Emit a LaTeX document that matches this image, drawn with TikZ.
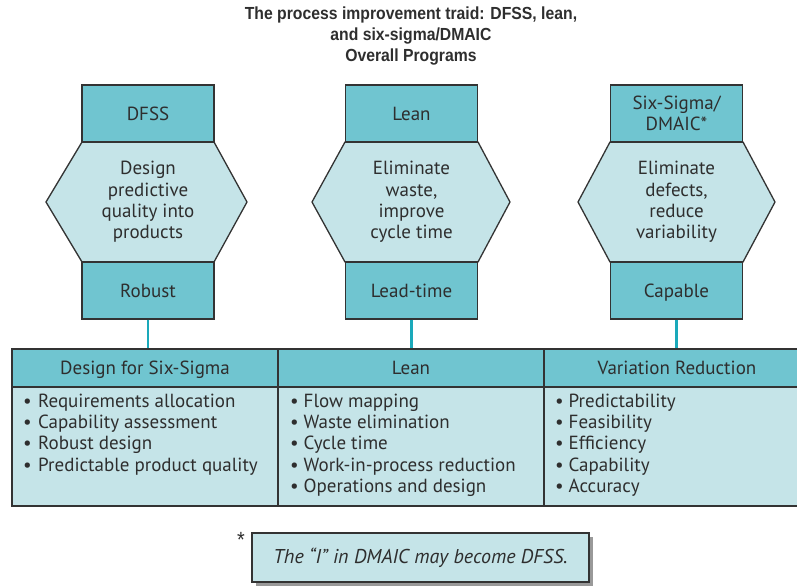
\documentclass[tikz,border=0pt]{standalone}
\usepackage{fontspec}
\setmainfont{PT Sans}
\newfontfamily\titlefont[FakeStretch=0.9]{Liberation Sans}
\usetikzlibrary{shadows}
\definecolor{dteal}{HTML}{70C5D0}
\definecolor{lteal}{HTML}{C5E4E8}
\definecolor{lineteal}{HTML}{1AA9BA}
\definecolor{edgec}{HTML}{333333}
\definecolor{txt}{HTML}{2E2E2E}
\begin{document}
\begin{tikzpicture}[x=1pt,y=-1pt,
  topbox/.style={draw=edgec, line width=1.3pt, fill=dteal, minimum width=132pt, minimum height=57pt, inner sep=0pt, align=center, text=txt, font=\fontsize{19}{21.5}\selectfont},
  oneline/.style={text height=16pt, text depth=2.5pt},
  hexshape/.style={draw=edgec, line width=1.3pt, fill=lteal, line join=miter},
  hextext/.style={align=center, text=txt, inner sep=0pt, font=\fontsize{19}{21.3}\selectfont},
  link/.style={draw=lineteal, line width=2.5pt},
  hdr/.style={draw=edgec, line width=1.3pt, fill=dteal, minimum width=266pt, minimum height=38pt, inner sep=0pt, text=txt, text height=16pt, text depth=2.5pt, font=\fontsize{19}{21}\selectfont},
  bodycell/.style={draw=edgec, line width=1.3pt, fill=lteal, minimum width=266pt, minimum height=119pt, inner sep=0pt},
  listtext/.style={anchor=north west, align=left, inner sep=0pt, text=txt, font=\fontsize{19}{21.3}\selectfont},
  footbox/.style={draw=edgec, line width=1.1pt, fill=lteal, minimum width=337pt, minimum height=49pt, inner sep=0pt, text=txt, font=\itshape\fontsize{20}{21}\selectfont, drop shadow={shadow xshift=4pt, shadow yshift=-4pt, opacity=1, fill=black!40}}
]
\clip (0,0) rectangle (797,586);
\useasboundingbox (0,0) rectangle (797,586);

% title
\node[align=center, text=txt, font=\titlefont\bfseries\fontsize{17.5}{21}\selectfont] (title) at (411,36)
  {The process improvement traid: DFSS, lean,\\and six-sigma/DMAIC\\Overall Programs};

% hexagons
\draw[hexshape] (82,142) -- (214,142) -- (247,202) -- (214,262) -- (82,262) -- (46,202) -- cycle;
\draw[hexshape] (345,142) -- (478,142) -- (510,202) -- (478,262) -- (345,262) -- (312,202) -- cycle;
\draw[hexshape] (610,142) -- (743,142) -- (775,202) -- (743,262) -- (610,262) -- (578,202) -- cycle;
\node[hextext] (g1) at (148,202) {Design\\predictive\\quality into\\products};
\node[hextext] (g2) at (411.5,202) {Eliminate\\waste,\\improve\\cycle time};
\node[hextext] (g3) at (676.5,202) {Eliminate\\defects,\\reduce\\variability};

% top and bottom boxes
\node[topbox, oneline] (t1) at (148,113.5) {DFSS};
\node[topbox, oneline] (t2) at (411.5,113.5) {Lean};
\node[topbox] (t3) at (676.5,113.5) {Six-Sigma/\\DMAIC*};
\node[topbox, oneline] (b1) at (148,290.5) {Robust};
\node[topbox, oneline] (b2) at (411.5,290.5) {Lead-time};
\node[topbox, oneline] (b3) at (676.5,290.5) {Capable};

% table
\node[hdr] (h1) at (145,368) {Design for Six-Sigma};
\node[hdr] (h2) at (411,368) {Lean};
\node[hdr] (h3) at (677,368) {Variation Reduction};
\node[bodycell] (c1) at (145,446.5) {};
\node[bodycell] (c2) at (411,446.5) {};
\node[bodycell] (c3) at (677,446.5) {};
\node[listtext] (l1) at (23,393.5) {\makebox[15pt][l]{•}Requirements allocation\\\makebox[15pt][l]{•}Capability assessment\\\makebox[15pt][l]{•}Robust design\\\makebox[15pt][l]{•}Predictable product quality};
\node[listtext] (l2) at (290,393.5) {\makebox[13.5pt][l]{•}Flow mapping\\\makebox[13.5pt][l]{•}Waste elimination\\\makebox[13.5pt][l]{•}Cycle time\\\makebox[13.5pt][l]{•}Work-in-process reduction\\\makebox[13.5pt][l]{•}Operations and design};
\node[listtext] (l3) at (555,393.5) {\makebox[13.5pt][l]{•}Predictability\\\makebox[13.5pt][l]{•}Feasibility\\\makebox[13.5pt][l]{•}Efficiency\\\makebox[13.5pt][l]{•}Capability\\\makebox[13.5pt][l]{•}Accuracy};

% connectors
\draw[link] (b1.south) -- (b1.south |- h1.north);
\draw[link] (b2.south) -- (b2.south |- h2.north);
\draw[link] (b3.south) -- (b3.south |- h3.north);

% footnote
\node[footbox] (fn) at (420.5,557.5) {The “I” in DMAIC may become DFSS.};
\node[anchor=base, text=txt, inner sep=0pt, font=\titlefont\fontsize{22}{22}\selectfont] (star) at (241,547) {*};
\end{tikzpicture}
\end{document}
